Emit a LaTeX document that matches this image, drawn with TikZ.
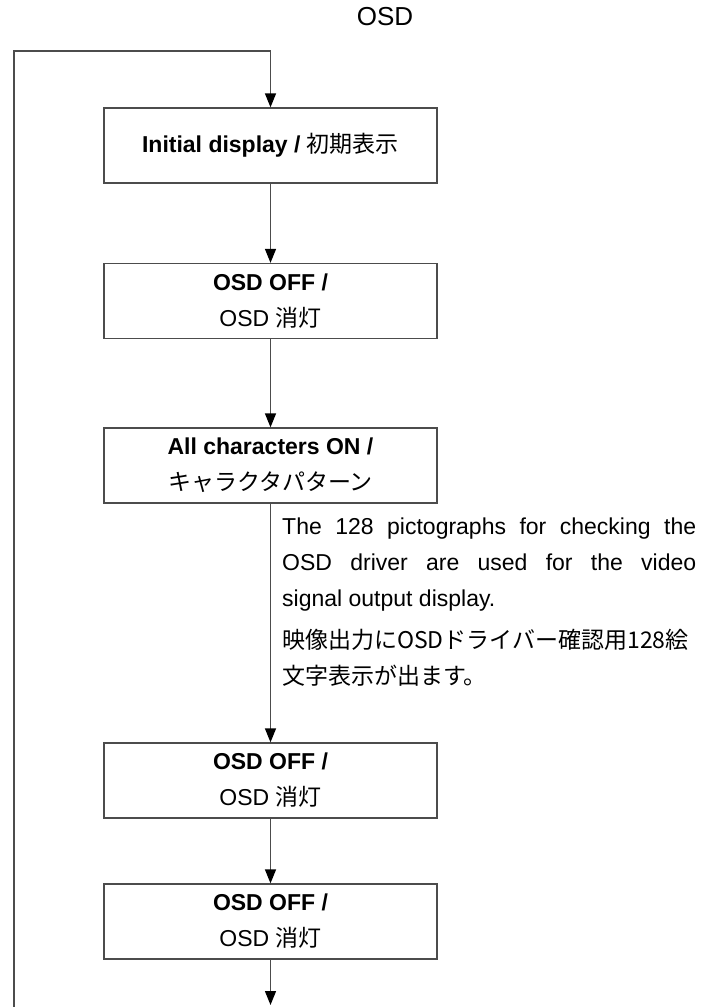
\documentclass[tikz,border=0pt]{standalone}
\usepackage{fontspec}
\setmainfont{Liberation Sans}
\newfontfamily\jpfont{Noto Sans CJK JP}
\usetikzlibrary{arrows.meta}

\begin{document}
\begin{tikzpicture}[x=1pt, y=-1pt,
    flowbox/.style={draw=black!70, line width=1.3pt, minimum width=333pt, minimum height=75pt,
      inner sep=0pt, align=center, font=\fontsize{23}{36}\selectfont},
    flowline/.style={draw=black!70, line width=1.3pt, -{Triangle[length=14pt, width=11pt, color=black]}},
    notetext/.style={inner sep=0pt, anchor=north west, font=\fontsize{23}{36}\selectfont}]
  \useasboundingbox (0,0) rectangle (714,1007);
  % Title
  \node[font=\fontsize{26}{30}\selectfont] (title) at (385,17) {OSD};
  % Steps of the sequence
  \node[flowbox] (init) at (270.5,145.5) {\textbf{Initial display /} {\jpfont 初期表示}};
  \node[flowbox] (off1) at (270.5,301) {\textbf{OSD OFF /}\\OSD {\jpfont 消灯}};
  \node[flowbox] (allOn) at (270.5,465.5) {\textbf{All characters ON /}\\{\jpfont キャラクタパターン}};
  \node[flowbox] (off2) at (270.5,780.5) {\textbf{OSD OFF /}\\OSD {\jpfont 消灯}};
  \node[flowbox] (off3) at (270.5,921.5) {\textbf{OSD OFF /}\\OSD {\jpfont 消灯}};
  % Note beside the third step
  \node[notetext, text width=414pt, align=justify] (noteEn) at (282,518)
    {The 128 pictographs for checking the\linebreak OSD driver are used for the video\linebreak signal output display.};
  \node[notetext, align=left, font=\fontsize{23}{36}\selectfont\jpfont] (noteJp) at (282,629)
    {映像出力にOSDドライバー確認用128絵\\文字表示が出ます。};
  % Return loop
  \coordinate (loopBot) at (14,1007);
  \coordinate (loopTop) at (14,51);
  \coordinate (loopIn) at (270.5,51);
  \coordinate (exitEnd) at (270.5,1005);
  \draw[flowline] (loopBot) -- (loopTop) -- (loopIn) -- (init.north);
  % Connectors
  \draw[flowline] (init) -- (off1);
  \draw[flowline] (off1) -- (allOn);
  \draw[flowline] (allOn) -- (off2);
  \draw[flowline] (off2) -- (off3);
  \draw[flowline] (off3) -- (exitEnd);
\end{tikzpicture}
\end{document}
